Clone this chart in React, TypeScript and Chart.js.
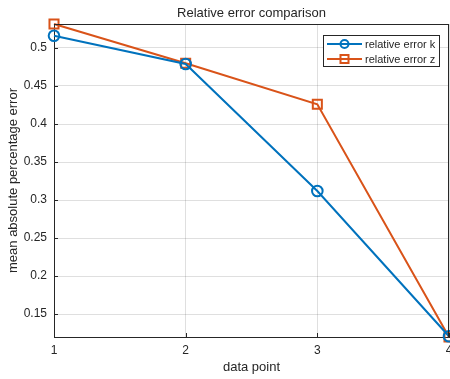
import React, { useEffect, useRef } from "react";
import { Chart, registerables } from "chart.js";

Chart.register(...registerables);

const xValues = [1, 2, 3, 4];
const errorK = [0.516, 0.479, 0.312, 0.121];
const errorZ = [0.5315, 0.48, 0.426, 0.12];
const seriesLabels = ["relative error k", "relative error z"];
const seriesColors = ["#0072BD", "#D95319"];
const seriesMarkers = ["circle", "rect"];
const titleText = "Relative error comparison";
const xTitle = "data point";
const yTitle = "mean absolute percentage error";
const yMin = 0.12;
const yMax = 0.5315;

const FONT = "'Liberation Sans', Arial, Helvetica, sans-serif";
const AXIS = "#262626";
const GRID = "rgba(38,38,38,0.15)";

const boxPlugin = {
  id: "boxAndTicks",
  afterDraw(chart: any) {
    const { ctx, chartArea } = chart;
    const { left, right, top, bottom } = chartArea;
    ctx.save();
    ctx.strokeStyle = AXIS;
    ctx.lineWidth = 1;
    ctx.beginPath();
    ctx.moveTo(left, top + 0.5);
    ctx.lineTo(right, top + 0.5);
    ctx.moveTo(right - 0.5, top);
    ctx.lineTo(right - 0.5, bottom);
    // inward ticks
    const ys = chart.scales.y;
    ys.ticks.forEach((t: any) => {
      const py = Math.round(ys.getPixelForValue(t.value)) + 0.5;
      ctx.moveTo(left, py);
      ctx.lineTo(left + 4, py);
    });
    const xs = chart.scales.x;
    xs.ticks.forEach((t: any) => {
      const px = Math.round(xs.getPixelForValue(t.value)) + 0.5;
      ctx.moveTo(px, bottom);
      ctx.lineTo(px, bottom - 4);
    });
    ctx.stroke();

    // x tick labels (from the x scale's own ticks)
    ctx.fillStyle = AXIS;
    ctx.font = `12px ${FONT}`;
    ctx.textAlign = "center";
    ctx.textBaseline = "top";
    xs.ticks.forEach((t: any) => {
      const px = xs.getPixelForValue(t.value);
      ctx.fillText(String(t.value), px, bottom + 8);
    });

    // legend
    const bw = 117;
    const bh = 32;
    const bx = right - 9 - bw;
    const by = top + 11;
    ctx.fillStyle = "#ffffff";
    ctx.fillRect(bx, by, bw, bh);
    ctx.strokeStyle = AXIS;
    ctx.lineWidth = 1;
    ctx.strokeRect(bx + 0.5, by + 0.5, bw - 1, bh - 1);
    ctx.font = `11px ${FONT}`;
    ctx.textBaseline = "middle";
    ctx.textAlign = "left";
    chart.data.datasets.forEach((ds: any, i: number) => {
      const cy = by + 9 + i * 15;
      const x0 = bx + 4;
      const x1 = bx + 39;
      ctx.strokeStyle = ds.borderColor;
      ctx.lineWidth = 2;
      ctx.beginPath();
      ctx.moveTo(x0, cy);
      ctx.lineTo(x1, cy);
      ctx.stroke();
      const cx = (x0 + x1) / 2;
      ctx.beginPath();
      if (ds.pointStyle === "circle") {
        ctx.arc(cx, cy, 4, 0, Math.PI * 2);
      } else {
        ctx.rect(cx - 4, cy - 4, 8, 8);
      }
      ctx.stroke();
      ctx.fillStyle = AXIS;
      ctx.fillText(ds.label, x1 + 3, cy + 0.5);
    });
    ctx.restore();
  },
};

export default function App() {
  const ref = useRef<HTMLCanvasElement>(null);
  useEffect(() => {
    document.body.style.margin = "0";
    const canvas = ref.current!;
    const chart = new Chart(canvas, {
      type: "line",
      data: {
        datasets: [errorK, errorZ].map((vals, i) => ({
          label: seriesLabels[i],
          data: vals.map((v, j) => ({ x: xValues[j], y: v })),
          borderColor: seriesColors[i],
          backgroundColor: "rgba(0,0,0,0)",
          borderWidth: 2,
          pointStyle: seriesMarkers[i],
          pointRadius: i === 0 ? 5.3 : 6.4,
          pointBorderWidth: 2,
          pointBorderColor: seriesColors[i],
          pointBackgroundColor: "rgba(0,0,0,0)",
          tension: 0,
          clip: false,
        })),
      },
      options: {
        responsive: false,
        animation: false,
        devicePixelRatio: 1,
        layout: { autoPadding: false, padding: { left: 0, right: 1, top: 0, bottom: 0 } },
        plugins: {
          legend: { display: false },
          tooltip: { enabled: false },
          title: {
            display: true,
            text: titleText,
            fullSize: false,
            color: AXIS,
            font: { family: FONT, size: 13, weight: "normal" },
            padding: { top: 6, bottom: 2.4 },
          },
        },
        scales: {
          x: {
            type: "linear",
            min: 1,
            max: 4,
            ticks: {
              stepSize: 1,
              display: false,
            },
            grid: { color: GRID, drawTicks: false },
            border: { color: AXIS, width: 1 },
            title: {
              display: true,
              text: xTitle,
              color: AXIS,
              font: { family: FONT, size: 13 },
              padding: { top: 0, bottom: 3.5 },
            },
            afterFit: (s: any) => {
              s.height = 42;
              s.paddingLeft = 0;
              s.paddingRight = 0;
            },
          },
          y: {
            type: "linear",
            min: yMin,
            max: yMax,
            ticks: {
              stepSize: 0.05,
              includeBounds: false,
              color: AXIS,
              font: { family: FONT, size: 12 },
              padding: 7,
              callback: (v: any) => String(Math.round(Number(v) * 100) / 100),
            },
            grid: { color: GRID, drawTicks: false },
            border: { color: AXIS, width: 1 },
            title: {
              display: true,
              text: yTitle,
              color: AXIS,
              font: { family: FONT, size: 13 },
              padding: { top: 6, bottom: 0 },
            },
            afterFit: (s: any) => {
              s.width = 54;
              s.paddingTop = 0;
              s.paddingBottom = 0;
            },
          },
        },
      } as any,
      plugins: [boxPlugin],
    });
    return () => chart.destroy();
  }, []);
  return (
    <div style={{ width: 450, height: 379, background: "#fff" }}>
      <canvas ref={ref} width={450} height={379} style={{ display: "block" }} />
    </div>
  );
}
